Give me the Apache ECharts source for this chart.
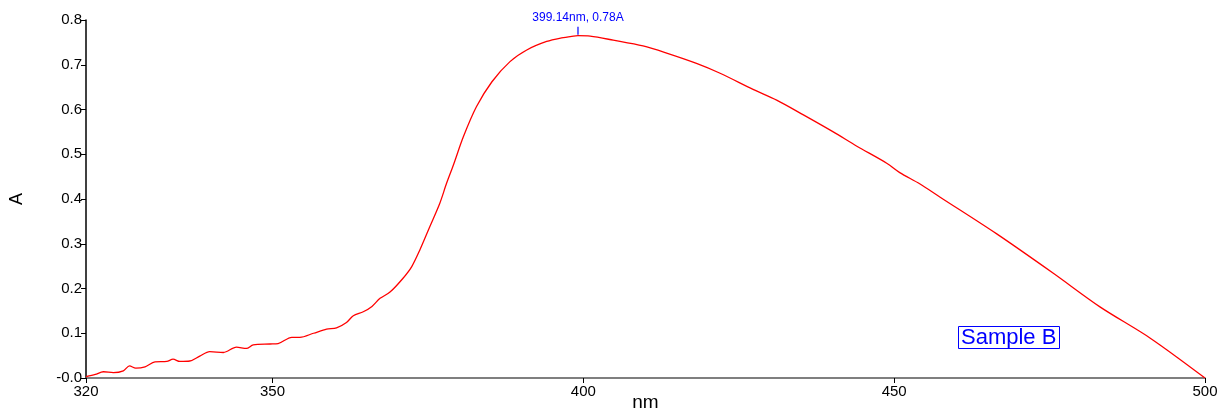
<!DOCTYPE html>
<html>
<head>
<meta charset="utf-8">
<script src="https://cdn.jsdelivr.net/npm/echarts@6/dist/echarts.min.js"></script>
<style>html,body{margin:0;padding:0;background:#fff;}#c{width:1218px;height:410px;}</style>
</head>
<body>
<div id="c"></div>
<script>
// Wavelength (nm) and absorbance (A)
const wavelengths = [320.0,321.5,322.8,324.4,326.0,327.0,328.0,329.5,331.1,333.0,334.0,335.1,336.7,338.3,339.9,342.1,344.2,345.8,346.9,349.6,350.9,353.1,354.4,356.6,358.7,360.3,361.9,363.0,364.6,366.0,367.3,368.9,371.0,372.4,373.7,375.3,376.9,378.0,379.1,380.7,382.8,385.3,388.2,390.9,394.1,396.5,398.4,399.14,401.1,404.8,409.6,413.4,418.2,422.0,427.3,431.1,435.4,440.2,444.0,448.8,450.9,454.1,457.4,466.5,475.6,483.1,491.2,500.0];
const absorbance = [0.003,0.008,0.014,0.012,0.016,0.027,0.022,0.025,0.036,0.037,0.042,0.037,0.038,0.049,0.059,0.057,0.069,0.066,0.074,0.076,0.077,0.091,0.091,0.100,0.109,0.112,0.124,0.139,0.148,0.160,0.178,0.192,0.223,0.249,0.286,0.338,0.390,0.435,0.476,0.539,0.606,0.662,0.707,0.733,0.752,0.760,0.764,0.765,0.764,0.755,0.742,0.726,0.703,0.681,0.645,0.621,0.588,0.550,0.518,0.480,0.459,0.434,0.404,0.322,0.234,0.159,0.089,0.000];
const xTicks = [320,350,400,450,500];
const yTicks = [0,0.1,0.2,0.3,0.4,0.5,0.6,0.7,0.8];
const peakNm = 399.14;
const peakA = 0.765;
const peakLabel = '399.14nm, 0.78A';
const seriesName = 'Sample B';

const chart = echarts.init(document.getElementById('c'), null, {renderer:'canvas'});
const font = 'Arial, "Liberation Sans", sans-serif';
chart.setOption({
  animation:false,
  backgroundColor:'#fff',
  title:{
    text: seriesName,
    left: 958, top: 328,
    padding:[0,3,0,3],
    borderColor:'#0000ff', borderWidth:1,
    textStyle:{color:'#0000ff', fontSize:22, fontWeight:'normal', fontFamily:font, lineHeight:19}
  },
  grid:{left:86,right:13,top:20,bottom:32,containLabel:false,outerBoundsMode:'none'},
  xAxis:{
    type:'value', min:320, max:500,
    name:'nm', nameLocation:'middle', nameGap:15, nameMoveOverlap:false,
    nameTextStyle:{color:'#000', fontSize:19, fontFamily:font},
    axisLine:{show:true, onZero:false, lineStyle:{color:'#555', width:1.5}},
    axisTick:{show:true, length:5, customValues:xTicks, lineStyle:{color:'#000'}},
    axisLabel:{customValues:xTicks, color:'#000', fontSize:15, fontFamily:font, margin:6},
    splitLine:{show:false}
  },
  yAxis:{
    type:'value', min:0, max:0.8, interval:0.1,
    name:'A', nameLocation:'middle', nameGap:60, nameMoveOverlap:false,
    nameTextStyle:{color:'#000', fontSize:18, fontFamily:font},
    axisLine:{show:true, onZero:false, lineStyle:{color:'#000', width:1.5}},
    axisTick:{show:true, length:5, customValues:yTicks, lineStyle:{color:'#000'}},
    axisLabel:{customValues:yTicks, color:'#000', fontSize:15, fontFamily:font, margin:4,
      formatter:function(v){ return v===0 ? '-0.0' : v.toFixed(1); }},
    splitLine:{show:false}
  },
  series:[{
    name: seriesName,
    type:'line',
    data: wavelengths.map((w,i)=>[w, absorbance[i]]),
    showSymbol:false,
    smooth:0.3,
    lineStyle:{color:'#ff0000', width:1.3},
    markPoint:{
      symbol:'rect',
      symbolSize:[1.2,8],
      symbolOffset:[0,-5],
      itemStyle:{color:'#0000ff'},
      label:{show:true, position:'top', distance:3, color:'#0000ff', fontSize:12, fontFamily:font, formatter:peakLabel},
      data:[{coord:[peakNm, peakA]}]
    }
  }]
});
</script>
</body>
</html>
